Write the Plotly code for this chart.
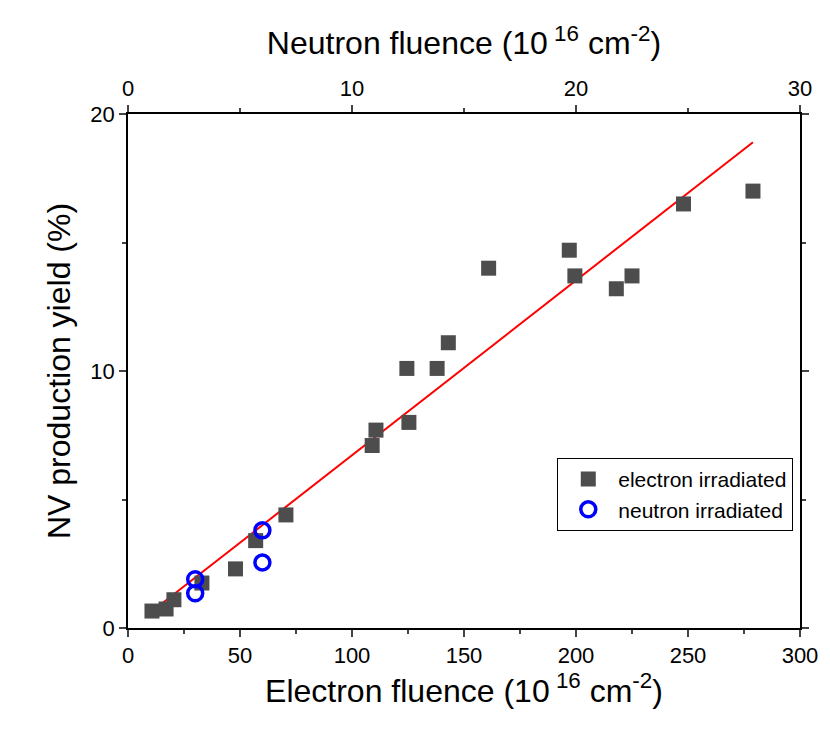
import plotly.graph_objects as go

e_x = [10.7, 17, 20.5, 33, 48, 57, 70.5, 109, 110.7, 124.5, 125.4, 138, 143, 161, 197, 199.5, 218, 225, 248, 279]
e_y = [0.66, 0.74, 1.1, 1.75, 2.3, 3.4, 4.4, 7.1, 7.7, 10.1, 8.0, 10.1, 11.1, 14.0, 14.7, 13.7, 13.2, 13.7, 16.5, 17.0]
n_x = [3.0, 3.0, 6.0, 6.0]  # neutron fluence
n_y = [1.9, 1.35, 3.8, 2.55]
fit_x = [10, 279]
fit_y = [0.6, 18.9]

fig = go.Figure()
fig.add_trace(go.Scatter(x=fit_x, y=fit_y, mode="lines", line=dict(color="red", width=2), showlegend=False))
fig.add_trace(go.Scatter(x=e_x, y=e_y, mode="markers", name="electron irradiated",
                         marker=dict(symbol="square", size=15, color="#4d4d4d")))
fig.add_trace(go.Scatter(x=n_x, y=n_y, mode="markers", name="neutron irradiated", xaxis="x2",
                         marker=dict(symbol="circle-open", size=15, color="blue", line=dict(width=3.5))))

font = dict(family="Liberation Sans, Arial", size=22, color="black")
ax = dict(showgrid=False, zeroline=False, showline=True, linecolor="black", linewidth=1.5,
          ticks="outside", ticklen=7, tickwidth=1.5, tickfont=dict(size=22),
          minor=dict(ticks="outside", ticklen=4, tickwidth=1.5))
fig.update_layout(
    width=830, height=741, template="plotly_white", font=font,
    margin=dict(l=120, r=38, t=106, b=121),
    xaxis=dict(ax, range=[0, 300], dtick=50, minor=dict(ax["minor"], dtick=25),
               title=dict(text="Electron fluence (10<sup> 16</sup> cm<sup>-2</sup>)", font=dict(size=32), standoff=12)),
    xaxis2=dict(ax, range=[0, 30], dtick=10, minor=dict(ax["minor"], dtick=5), overlaying="x", side="top",
                title=dict(text="Neutron fluence (10<sup> 16</sup> cm<sup>-2</sup>)", font=dict(size=32), standoff=12)),
    yaxis=dict(ax, range=[0, 20], dtick=10, minor=dict(ax["minor"], dtick=5), mirror="ticks",
               title=dict(text="NV production yield (%)", font=dict(size=32), standoff=10)),
    legend=dict(x=0.99, y=0.26, xanchor="right", yanchor="middle", bordercolor="black", borderwidth=1,
                font=dict(size=21), bgcolor="white", itemwidth=50),
)
fig.write_html("out.html")
